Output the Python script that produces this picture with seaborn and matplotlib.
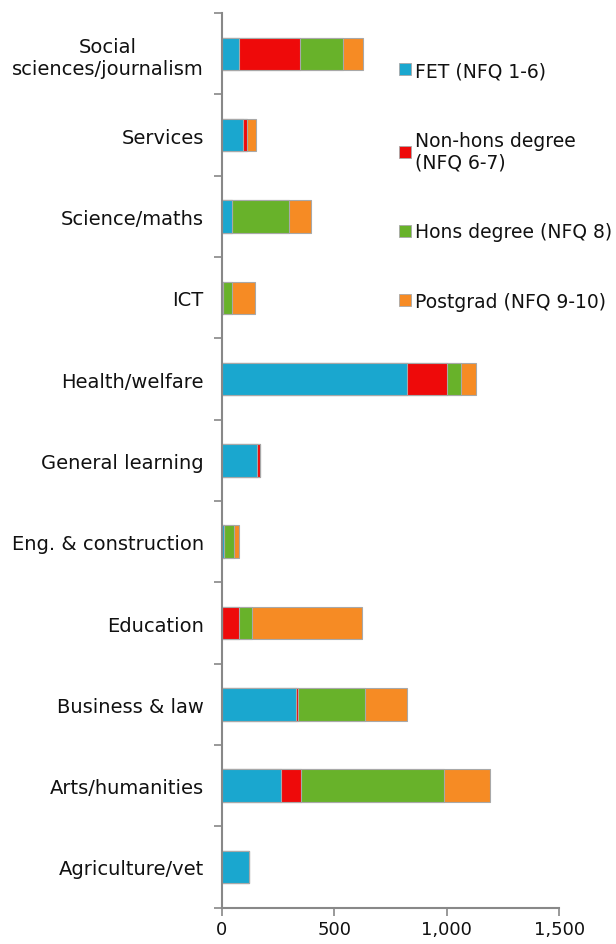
import matplotlib
matplotlib.use("Agg")
import matplotlib.pyplot as plt
from matplotlib.patches import Patch
from matplotlib.ticker import FuncFormatter, FixedLocator
import numpy as np
import pandas as pd
import seaborn as sns

# Graduates by field of study and qualification level
fields = [
    "Social\nsciences/journalism",
    "Services",
    "Science/maths",
    "ICT",
    "Health/welfare",
    "General learning",
    "Eng. & construction",
    "Education",
    "Business & law",
    "Arts/humanities",
    "Agriculture/vet",
]
fet = [77, 93, 44, 5, 825, 155, 10, 0, 330, 263, 120]
non_hons = [271, 21, 0, 0, 175, 15, 0, 75, 10, 89, 0]
hons = [189, 0, 256, 39, 62, 0, 46, 58, 297, 636, 0]
postgrad = [89, 40, 95, 104, 66, 0, 21, 492, 188, 203, 0]

series_names = ["FET (NFQ 1-6)", "Non-hons degree\n(NFQ 6-7)",
                "Hons degree (NFQ 8)", "Postgrad (NFQ 9-10)"]
series_values = [fet, non_hons, hons, postgrad]
colors = ["#1AA7CF", "#EE0A0A", "#68B22A", "#F68B24"]
x_ticks = [0, 500, 1000, 1500]

sns.set_theme(style="white")
plt.rcParams["font.family"] = ["DejaVu Sans"]

fig = plt.figure(figsize=(6.16, 9.45), dpi=100)
ax = fig.add_axes([0.36, 0.0385, 0.548, 0.9465])

# Stacked bars: draw running totals from the outermost segment inwards
cum = np.cumsum(np.array(series_values, dtype=float), axis=0)
for i in range(len(series_names) - 1, -1, -1):
    df = pd.DataFrame({"field": fields, "value": cum[i]})
    sns.barplot(data=df, x="value", y="field", order=fields, orient="h",
                color=colors[i], saturation=1, width=0.4,
                edgecolor="#a8a8a8", linewidth=0.8, ax=ax)

ax.set_xlim(0, 1500)
ax.set_ylim(len(fields) - 0.5, -0.5)
ax.set_xlabel("")
ax.set_ylabel("")

ax.xaxis.set_major_locator(FixedLocator(x_ticks))
ax.xaxis.set_major_formatter(FuncFormatter(lambda v, p: f"{int(v):,}"))
ax.tick_params(axis="x", which="major", direction="out", length=6, width=1.2,
               color="#888888", labelsize=13, labelcolor="#111111", pad=3,
               bottom=True)

# Category labels at centres, tick marks at category boundaries
ax.set_yticks(range(len(fields)))
ax.set_yticklabels(fields)
ax.set_yticks(np.arange(-0.5, len(fields), 1.0), minor=True)
ax.tick_params(axis="y", which="major", length=0, labelsize=14,
               labelcolor="#111111", pad=13)
ax.tick_params(axis="y", which="minor", direction="out", length=6, width=1.2,
               color="#888888", left=True)
for lbl in ax.get_yticklabels():
    lbl.set_multialignment("center")

for side in ["top", "right"]:
    ax.spines[side].set_visible(False)
for side in ["left", "bottom"]:
    ax.spines[side].set_color("#888888")
    ax.spines[side].set_linewidth(1.5)
ax.grid(False)

handles = [Patch(facecolor=c, edgecolor="#a8a8a8", linewidth=0.6) for c in colors]
fig.legend(handles, series_names, loc="upper left",
           bbox_to_anchor=(399 / 616, 1 - 62 / 945),
           bbox_transform=fig.transFigure, frameon=False, fontsize=13.5,
           handlelength=0.62, handleheight=0.62, handletextpad=0.25,
           labelspacing=2.7, borderpad=0, borderaxespad=0,
           labelcolor="#111111")

fig.savefig("out.png", dpi=100)
